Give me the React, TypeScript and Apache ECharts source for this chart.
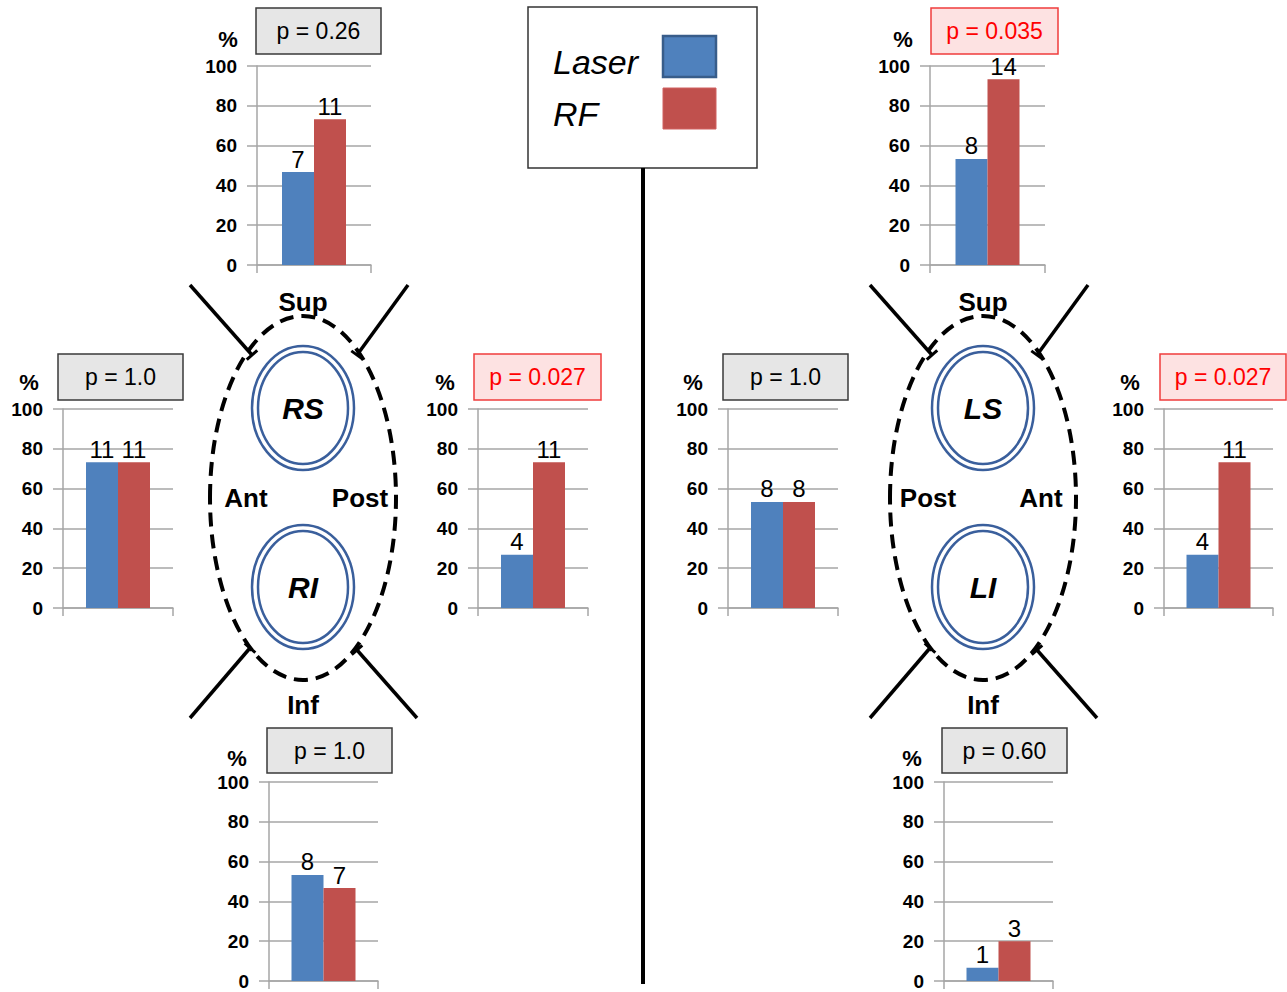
import React, { useEffect, useRef } from "react";
import * as echarts from "echarts";

// ---- data ----
const regions = ["RS Sup", "RS Ant", "RS Post", "RI Inf", "LS Sup", "LS Post", "LS Ant", "LI Inf"];
const laserPct = [46.7, 73.3, 26.7, 53.3, 53.3, 53.3, 26.7, 6.7];
const rfPct = [73.3, 73.3, 73.3, 46.7, 93.3, 53.3, 73.3, 20.0];
const laserN = [7, 11, 4, 8, 8, 8, 4, 1];
const rfN = [11, 11, 11, 7, 14, 8, 11, 3];
const pLabels = ["p = 0.26", "p = 1.0", "p = 0.027", "p = 1.0", "p = 0.035", "p = 1.0", "p = 0.027", "p = 0.60"];
const significant = [false, false, true, false, true, false, true, false];
const seriesNames = ["Laser", "RF"];

// ---- layout ----
const gridBoxes = [
  { left: 257, top: 66, width: 114 },
  { left: 63, top: 409, width: 110 },
  { left: 478, top: 409, width: 110 },
  { left: 269, top: 782, width: 109 },
  { left: 930, top: 66, width: 115 },
  { left: 728, top: 409, width: 110 },
  { left: 1164, top: 409, width: 109 },
  { left: 944, top: 782, width: 109 },
];
const pBoxes = [
  { x: 256, y: 8, w: 125, h: 46 },
  { x: 58, y: 354, w: 125, h: 46 },
  { x: 474, y: 354, w: 127, h: 46 },
  { x: 267, y: 728, w: 125, h: 45 },
  { x: 931, y: 8, w: 127, h: 46 },
  { x: 723, y: 354, w: 125, h: 46 },
  { x: 1160, y: 354, w: 126, h: 46 },
  { x: 942, y: 728, w: 125, h: 45 },
];
const pctPos = [
  [228, 39], [29, 382], [445, 382], [237, 758],
  [903, 39], [693, 382], [1130, 382], [912, 758],
];
const PLOT_H = 199;
const BLUE = "#4F81BD";
const RED = "#C0504D";
const FONT = "'Liberation Sans', Arial, sans-serif";

const diagrams = [
  { cx: 303, rings: ["RS", "RI"], left: "Ant", right: "Post", lo: -57, ro: 57 },
  { cx: 983, rings: ["LS", "LI"], left: "Post", right: "Ant", lo: -55, ro: 58 },
];

function buildGraphics() {
  const g: any[] = [];
  // legend box
  g.push({ type: "rect", shape: { x: 528, y: 7, width: 229, height: 161 }, style: { fill: "#fff", stroke: "#333", lineWidth: 1.5 } });
  g.push({ type: "text", x: 553, y: 62, style: { text: seriesNames[0], font: `italic 34px ${FONT}`, fill: "#000", textVerticalAlign: "middle" } });
  g.push({ type: "text", x: 553, y: 114, style: { text: seriesNames[1], font: `italic 34px ${FONT}`, fill: "#000", textVerticalAlign: "middle" } });
  g.push({ type: "rect", shape: { x: 663, y: 36, width: 53, height: 41 }, style: { fill: BLUE, stroke: "#385D8A", lineWidth: 2.5 } });
  g.push({ type: "rect", shape: { x: 663, y: 88, width: 53, height: 41 }, style: { fill: RED, stroke: "#D06060", lineWidth: 1 } });
  // vertical divider
  g.push({ type: "line", shape: { x1: 643, y1: 168, x2: 643, y2: 984 }, style: { stroke: "#000", lineWidth: 4 } });

  // p boxes and %
  pBoxes.forEach((b, i) => {
    const sig = significant[i];
    g.push({
      type: "rect",
      shape: { x: b.x, y: b.y, width: b.w, height: b.h },
      style: { fill: sig ? "#FDE2E2" : "#E6E6E6", stroke: sig ? "#F03C3C" : "#3A3A3A", lineWidth: 1.5 },
    });
    g.push({
      type: "text",
      x: b.x + b.w / 2,
      y: b.y + b.h / 2,
      style: { text: pLabels[i], font: `23px ${FONT}`, fill: sig ? "#FF0000" : "#000", textAlign: "center", textVerticalAlign: "middle" },
    });
    g.push({
      type: "text",
      x: pctPos[i][0],
      y: pctPos[i][1],
      style: { text: "%", font: `bold 22px ${FONT}`, fill: "#000", textAlign: "center", textVerticalAlign: "middle" },
    });
  });

  // anatomical diagrams
  diagrams.forEach((d) => {
    const cx = d.cx;
    g.push({
      type: "ellipse",
      shape: { cx, cy: 498, rx: 93, ry: 182 },
      style: { fill: "none", stroke: "#000", lineWidth: 4, lineDash: [14, 8] },
    });
    const lines = [
      [cx - 113, 285, cx - 51, 355],
      [cx + 105, 285, cx + 54, 355],
      [cx - 113, 718, cx - 53, 648],
      [cx + 114, 718, cx + 54, 650],
    ];
    lines.forEach(([x1, y1, x2, y2]) => {
      g.push({ type: "line", shape: { x1, y1, x2, y2 }, style: { stroke: "#000", lineWidth: 3.5 } });
      const dx = x2 - x1, dy = y2 - y1;
      const len = Math.sqrt(dx * dx + dy * dy);
      const px = (-dy / len) * 7, py = (dx / len) * 7;
      g.push({ type: "line", shape: { x1: x2 - px, y1: y2 - py, x2: x2 + px, y2: y2 + py }, style: { stroke: "#000", lineWidth: 3 } });
    });
    [408, 587].forEach((cy, k) => {
      g.push({ type: "ellipse", shape: { cx, cy, rx: 51, ry: 62 }, style: { fill: "#fff", stroke: "#3A5F9C", lineWidth: 2.5 } });
      g.push({ type: "ellipse", shape: { cx, cy, rx: 45, ry: 56 }, style: { fill: "none", stroke: "#3A5F9C", lineWidth: 2.5 } });
      g.push({ type: "text", x: cx, y: cy, style: { text: d.rings[k], font: `italic bold 30px ${FONT}`, fill: "#000", textAlign: "center", textVerticalAlign: "middle" } });
    });
    const lab = (t: string, x: number, y: number) =>
      g.push({ type: "text", x, y, style: { text: t, font: `bold 26px ${FONT}`, fill: "#000", textAlign: "center", textVerticalAlign: "middle" } });
    lab("Sup", cx, 302);
    lab("Inf", cx, 705);
    lab(d.left, cx + d.lo, 498);
    lab(d.right, cx + d.ro, 498);
  });
  return g;
}

export default function App() {
  const ref = useRef<HTMLDivElement>(null);
  useEffect(() => {
    document.body.style.margin = "0";
    if (!ref.current) return;
    const chart = echarts.init(ref.current, null, { renderer: "svg" });
    const grid = gridBoxes.map((b) => ({ left: b.left, top: b.top, width: b.width, height: PLOT_H, containLabel: false }));
    const xAxis = gridBoxes.map((_, i) => ({
      type: "category",
      gridIndex: i,
      data: [regions[i]],
      axisLine: { show: true, lineStyle: { color: "#A6A6A6", width: 1.5 } },
      axisTick: { show: true, length: 8, lineStyle: { color: "#A6A6A6", width: 1.5 } },
      axisLabel: { show: false },
    }));
    const yAxis = gridBoxes.map((_, i) => ({
      type: "value",
      gridIndex: i,
      min: 0,
      max: 100,
      interval: 20,
      axisLine: { show: true, lineStyle: { color: "#A6A6A6", width: 1.5 } },
      axisTick: { show: true, length: 10, lineStyle: { color: "#A6A6A6", width: 1.5 } },
      splitLine: { show: true, lineStyle: { color: "#A6A6A6", width: 1.5 } },
      axisLabel: { margin: 20, fontSize: 19, fontWeight: "bold", color: "#000", fontFamily: FONT },
    }));
    const series: any[] = [];
    gridBoxes.forEach((_, i) => {
      [laserPct, rfPct].forEach((arr, s) => {
        const counts = s === 0 ? laserN : rfN;
        series.push({
          type: "bar",
          name: seriesNames[s],
          xAxisIndex: i,
          yAxisIndex: i,
          data: [arr[i]],
          barWidth: 32,
          barGap: "0%",
          itemStyle: { color: s === 0 ? BLUE : RED },
          label: {
            show: true,
            position: "top",
            distance: 1,
            formatter: () => String(counts[i]),
            fontSize: 24,
            color: "#000",
            fontFamily: FONT,
          },
        });
      });
    });
    chart.setOption({
      animation: false,
      backgroundColor: "#fff",
      textStyle: { fontFamily: FONT },
      grid,
      xAxis,
      yAxis,
      series,
      graphic: buildGraphics(),
    });
    return () => chart.dispose();
  }, []);
  return <div ref={ref} style={{ width: 1287, height: 992 }} />;
}
